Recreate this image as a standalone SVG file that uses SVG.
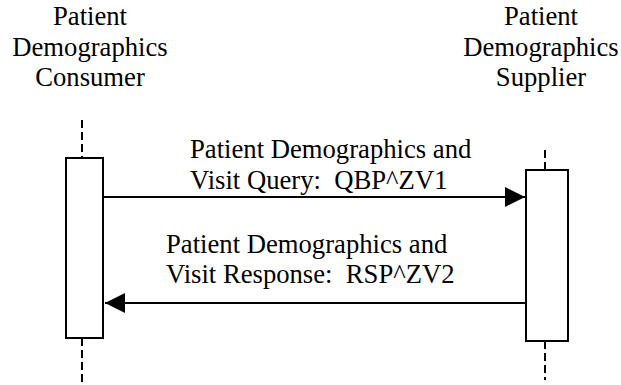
<svg xmlns="http://www.w3.org/2000/svg" width="621" height="385" viewBox="0 0 621 385">
<defs>
<marker id="ah" markerUnits="userSpaceOnUse" markerWidth="20" markerHeight="20" refX="20" refY="10" orient="auto">
<path d="M0,0 L20,10 L0,20 z" fill="#000"/>
</marker>
</defs>
<g id="consumer">
<text x="90" y="25" font-size="26.67" font-family="Liberation Serif" text-anchor="middle">Patient</text>
<text x="90" y="55.7" font-size="26.67" font-family="Liberation Serif" text-anchor="middle">Demographics</text>
<text x="90" y="86.3" font-size="26.67" font-family="Liberation Serif" text-anchor="middle">Consumer</text>
<line x1="82" y1="120" x2="82" y2="158" stroke="#000" stroke-width="2" stroke-dasharray="8,4"/>
<line x1="82" y1="338" x2="82" y2="385" stroke="#000" stroke-width="2" stroke-dasharray="8,4"/>
<rect x="66" y="158" width="37" height="180" fill="#fff" stroke="#000" stroke-width="2"/>
</g>
<g id="supplier">
<text x="541" y="25" font-size="26.67" font-family="Liberation Serif" text-anchor="middle">Patient</text>
<text x="541" y="55.7" font-size="26.67" font-family="Liberation Serif" text-anchor="middle">Demographics</text>
<text x="541" y="86.3" font-size="26.67" font-family="Liberation Serif" text-anchor="middle">Supplier</text>
<line x1="545" y1="150" x2="545" y2="170" stroke="#000" stroke-width="2" stroke-dasharray="8,4"/>
<line x1="545" y1="341" x2="545" y2="380" stroke="#000" stroke-width="2" stroke-dasharray="8,4"/>
<rect x="526" y="170" width="42" height="171" fill="#fff" stroke="#000" stroke-width="2"/>
</g>
<g id="connectors">
<line x1="103" y1="197" x2="525" y2="197" stroke="#000" stroke-width="2" marker-end="url(#ah)"/>
<text x="190" y="158" font-size="26.67" font-family="Liberation Serif">Patient Demographics and</text>
<text x="190" y="189" font-size="26.67" font-family="Liberation Serif" xml:space="preserve">Visit Query:  QBP^ZV1</text>
<line x1="526" y1="303" x2="105" y2="303" stroke="#000" stroke-width="2" marker-end="url(#ah)"/>
<text x="166" y="253" font-size="26.67" font-family="Liberation Serif">Patient Demographics and</text>
<text x="166" y="283" font-size="26.67" font-family="Liberation Serif" xml:space="preserve">Visit Response:  RSP^ZV2</text>
</g>
</svg>
